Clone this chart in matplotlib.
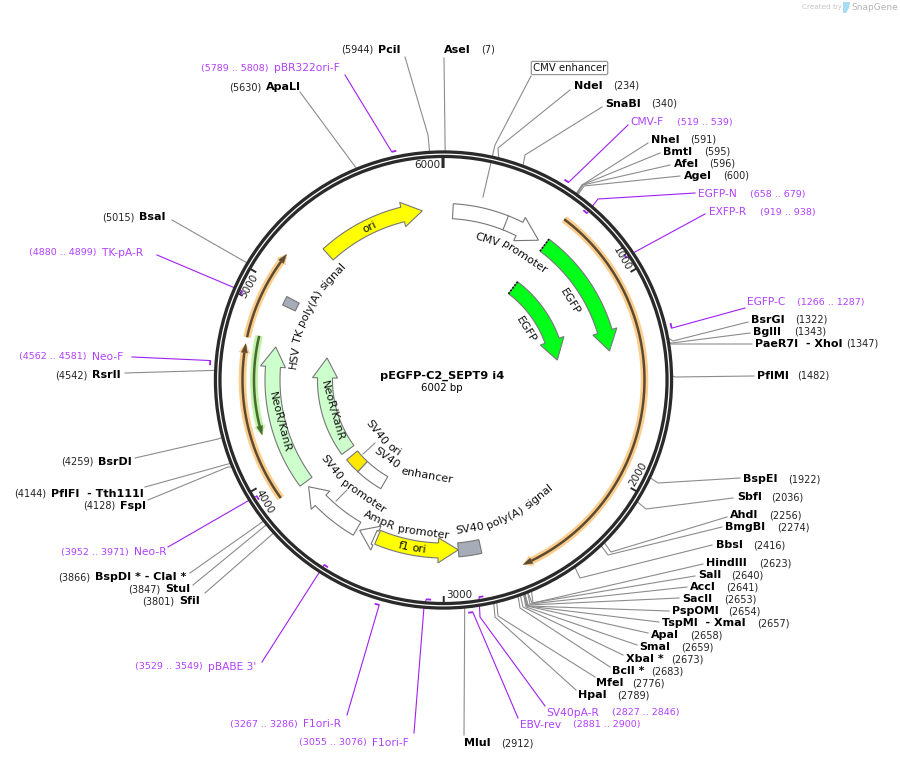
#!/usr/bin/env python3
"""Plasmid map of pEGFP-C2_SEPT9 i4, drawn on a pixel sized axes."""

import numpy as np
import matplotlib
matplotlib.use("Agg")
import matplotlib.pyplot as plt
from matplotlib.font_manager import FontProperties
from matplotlib.patches import Circle, Polygon

# --- data ---
plasmid_name = "pEGFP-C2_SEPT9 i4"
plasmid_len = 6002
ruler_ticks = [1000, 2000, 3000, 4000, 5000, 6000]

site_names = ["AseI", "NdeI", "SnaBI", "NheI", "BmtI", "AfeI", "AgeI", "BsrGI", "BglII",
              "PaeR7I  - XhoI", "PflMI", "BspEI", "SbfI", "AhdI", "BmgBI", "BbsI", "HindIII",
              "SalI", "AccI", "SacII", "PspOMI", "TspMI  - XmaI", "ApaI", "SmaI", "XbaI *",
              "BclI *", "MfeI", "HpaI", "MluI", "SfiI", "StuI", "BspDI * - ClaI *", "FspI",
              "PflFI  - Tth111I", "BsrDI", "RsrII", "BsaI", "ApaLI", "PciI"]
site_bp = [7, 234, 340, 591, 595, 596, 600, 1322, 1343,
           1347, 1482, 1922, 2036, 2256, 2274, 2416, 2623,
           2640, 2641, 2653, 2654, 2657, 2658, 2659, 2673,
           2683, 2776, 2789, 2912, 3801, 3847, 3866, 4128,
           4144, 4259, 4542, 5015, 5630, 5944]

primer_names = ["CMV-F", "EGFP-N", "EXFP-R", "EGFP-C", "SV40pA-R", "EBV-rev", "F1ori-F",
                "F1ori-R", "pBABE 3'", "Neo-R", "Neo-F", "TK-pA-R", "pBR322ori-F"]
primer_start = [519, 658, 919, 1266, 2827, 2881, 3055, 3267, 3529, 3952, 4562, 4880, 5789]
primer_end = [539, 679, 938, 1287, 2846, 2900, 3076, 3286, 3549, 3971, 4581, 4899, 5808]

# feature name, start, tip (bp)
white_arrows = [("CMV", 53, 570), ("SV40 promoter", 3504, 3862), ("AmpR promoter", 3398, 3487)]
yellow_arrows = [("ori", 5292, 5883), ("f1 ori", 3380, 2918)]
green_arrows = [("EGFP", 614, 1335)]
green_arrows_inner = [("EGFP", 617, 1335)]
neo_arrows = [("NeoR/KanR", 3893, 4687)]
neo_arrows_inner = [("NeoR/KanR", 3898, 4680)]
polya_blocks = [("SV40 poly(A) signal", 2793, 2918), ("HSV TK poly(A) signal", 4918, 4969)]
orange_arcs = [(615, 2611), (4706, 5146), (3902, 4675)]
lime_arcs = [(4726, 4221)]

# --- layout (pixels of the 900x760 picture) ---
CX, CY = 443.5, 380.0
site_name_x = [444, 574, 605, 651, 663, 674, 684, 751, 753,
               755, 757, 743, 737, 730, 725, 716, 706,
               698, 690, 682, 672, 662, 651, 639, 626,
               612, 596, 578, 464, 179, 165, 95, 120,
               51, 98, 92, 139, 266, 378]
site_num_x = [481, 613, 651, 690, 704, 709, 723, 795, 794,
              846, 797, 788, 771, 769, 777, 753, 759,
              731, 726, 724, 728, 757, 690, 681, 671,
              651, 632, 617, 501, 142, 128, 58, 83,
              14, 61, 55, 102, 229, 341]
site_y = [50, 86, 104, 140, 152, 164, 176, 320, 332,
          344, 376, 479, 497, 515, 527, 545, 563,
          575, 587, 599, 611, 623, 635, 647, 659,
          671, 683, 695, 743, 601, 589, 577, 506,
          494, 462, 375, 217, 87, 50]
site_end = [(444, 58), (570, 90), (602, 107), (648, 143), (660, 153), (670, 165), (680, 176),
            (748, 322), (750, 333), (752, 344), (754, 376), (740, 478), (733, 498), (727, 517),
            (722, 527), (712, 545), (703, 564), (695, 576), (687, 587), (679, 598), (669, 611),
            (659, 622), (648, 633), (637, 645), (623, 655), (610, 667), (595, 677), (576, 690),
            (464, 735), (205, 593), (193, 585), (190, 573), (148, 500), (145, 487), (135, 458),
            (125, 373), (172, 220), (300, 92), (405, 57)]
site_jog = [None, (498, 148), (525, 155), (582, 185), (582, 185), (583, 185), (584, 186),
            (673, 341), (672, 343), (672, 344), (675, 377), (658, 483), (646, 509), (611, 552),
            (608, 555), (580, 578), (533, 603), (532, 603), (530, 604), (528, 605), (528, 606),
            (527, 606), (527, 606), (526, 607), (523, 607), (520, 608), (498, 616), (495, 617),
            None, None, None, None, (228, 467), (228, 464), (218, 439),
            None, None, None, (428, 135)]

primer_outer = [True, False, False, True, False, True, False, True, False, False, True, False, True]
primer_name_x = [630, 698, 709, 747, 546, 520, 372, 303, 208, 134, 92, 102, 274]
primer_num_x = [677, 750, 760, 797, 612, 573, 299, 230, 135, 61, 19, 29, 201]
primer_y = [122, 194, 212, 302, 713, 725, 743, 724, 667, 552, 357, 253, 68]
primer_end_xy = [(628, 125), (695, 193), (705, 214), (745, 308), (545, 706), (518, 718), (414, 733),
                 (347, 715), (262, 662), (168, 547), (132, 357), (157, 255), (345, 75)]
primer_jog = [None, (598, 199), (633, 253), None, (480, 617), None, (424, 607),
              None, None, None, None, None, None]

# curved labels: text, middle bp, radius
arc_labels = [("ori", 5570, 170), ("CMV promoter", 467, 147), ("EGFP", 974, 149), ("EGFP", 974, 97),
              ("HSV TK poly(A) signal", 4950, 151), ("NeoR/KanR", 4263, 169), ("NeoR/KanR", 4240, 115.5),
              ("SV40 ori", 3768, 85), ("SV40 enhancer", 3325, 97), ("SV40 promoter", 3685, 142),
              ("AmpR promoter", 3242, 154), ("f1 ori", 3176, 171), ("SV40 poly(A) signal", 2585, 151)]

PURPLE = "#a020f0"
PURPLE_TEXT = "#b040ff"
GREY_LINE = "#8c8c8c"
RING = "#2a2a2a"

fig = plt.figure(figsize=(9, 7.6), dpi=100)
ax = fig.add_axes([0, 0, 1, 1])
ax.set_xlim(0, 900)
ax.set_ylim(760, 0)
ax.axis("off")
renderer = fig.canvas.get_renderer()


def bp2deg(bp):
    return np.asarray(bp, dtype=float) / plasmid_len * 360.0


def polar(deg, r):
    t = np.radians(deg)
    return CX + r * np.sin(t), CY - r * np.cos(t)


def tangent_rot(deg):
    deg = deg % 360
    return 180 - deg if 90 < deg < 270 else -deg


def arc_xy(a, b, r, n=80):
    return polar(np.linspace(a, b, n), r)


def draw_arrow(tail_bp, tip_bp, r, face, width=15, head_w=25, head_len=21, z=4):
    a, b = bp2deg(tail_bp), bp2deg(tip_bp)
    d = 1 if b > a else -1
    base = b - d * np.degrees(head_len / r)
    xo, yo = arc_xy(a, base, r + width / 2)
    xi, yi = arc_xy(base, a, r - width / 2)
    hx1, hy1 = polar(base, r + head_w / 2)
    hx2, hy2 = polar(base, r - head_w / 2)
    tx, ty = polar(b, r)
    pts = list(zip(xo, yo)) + [(hx1, hy1), (tx, ty), (hx2, hy2)] + list(zip(xi, yi))
    ax.add_patch(Polygon(pts, closed=True, fc=face, ec="#777777", lw=0.8, zorder=z))


def draw_block(a_bp, b_bp, r, face, width=14, ec="#777777"):
    a, b = bp2deg(a_bp), bp2deg(b_bp)
    xo, yo = arc_xy(a, b, r + width / 2, 30)
    xi, yi = arc_xy(b, a, r - width / 2, 30)
    pts = list(zip(xo, yo)) + list(zip(xi, yi))
    ax.add_patch(Polygon(pts, closed=True, fc=face, ec=ec, lw=0.8, zorder=4))


def highlight_arc(a_bp, b_bp, r, glow, core):
    a, b = bp2deg(a_bp), bp2deg(b_bp)
    d = 1 if b > a else -1
    stop = b - d * np.degrees(9 / r)
    for col, lw, hw in ((glow, 5.5, 5.5), (core, 1.8, 3.0)):
        x, y = arc_xy(a, stop, r)
        ax.plot(x, y, color=col, lw=lw, solid_capstyle="butt", zorder=3)
        x1, y1 = polar(stop, r + hw)
        x2, y2 = polar(stop, r - hw)
        tx, ty = polar(b, r)
        ax.add_patch(Polygon([(x1, y1), (tx, ty), (x2, y2)], closed=True, fc=col, ec=col,
                             lw=0.3, zorder=3))


def arc_text(text, mid_bp, r, size=8):
    # one text per word, each turned to the tangent of the circle
    fp = FontProperties(family="DejaVu Sans", size=size)
    words = text.split(" ")
    widths = [renderer.get_text_width_height_descent(w, fp, False)[0] for w in words]
    gap = size * 100 / 72 * 0.28
    total = sum(widths) + gap * (len(words) - 1)
    mid = float(bp2deg(mid_bp))
    sign = -1 if 90 < mid % 360 < 270 else 1
    pos = -total / 2
    for w, wd in zip(words, widths):
        deg = mid + sign * np.degrees((pos + wd / 2) / r)
        x, y = polar(deg, r)
        ax.text(x, y, w, fontproperties=fp, rotation=tangent_rot(deg), rotation_mode="anchor",
                ha="center", va="center", color="#111111", zorder=6)
        pos += wd + gap


# leaders for enzyme sites
for bp, end, jog in zip(site_bp, site_end, site_jog):
    sx, sy = polar(bp2deg(bp), 228)
    xs, ys = [sx], [sy]
    if jog is not None:
        xs.append(jog[0])
        ys.append(jog[1])
    xs.append(end[0])
    ys.append(end[1])
    ax.plot(xs, ys, color=GREY_LINE, lw=0.8, zorder=1)

# primers: small bar plus leader that leaves from the nearer end of the bar
for s, e, outer, end, jog in zip(primer_start, primer_end, primer_outer, primer_end_xy, primer_jog):
    r = 234 if outer else 220
    x, y = arc_xy(bp2deg(s), bp2deg(e), r, 8)
    ax.plot(x, y, color=PURPLE, lw=1.3, solid_capstyle="butt", zorder=5)
    nxt = jog if jog is not None else end
    ends = [(x[0], y[0]), (x[-1], y[-1])]
    sx, sy = min(ends, key=lambda p: (p[0] - nxt[0]) ** 2 + (p[1] - nxt[1]) ** 2)
    xs, ys = [sx], [sy]
    if jog is not None:
        xs.append(jog[0])
        ys.append(jog[1])
    xs.append(end[0])
    ys.append(end[1])
    ax.plot(xs, ys, color=PURPLE, lw=0.8, zorder=1)

# backbone ring
ax.add_patch(Circle((CX, CY), 225.8, fill=False, ec=RING, lw=5.6, zorder=2))
ax.add_patch(Circle((CX, CY), 225.8, fill=False, ec="white", lw=0.9, zorder=2.1))

# ruler
for tick in ruler_ticks:
    deg = float(bp2deg(tick))
    x1, y1 = polar(deg, 224)
    x2, y2 = polar(deg, 212 if tick == 6000 else 216)
    ax.plot([x1, x2], [y1, y2], color=RING, lw=2.2 if tick == 6000 else 1.4,
            solid_capstyle="butt", zorder=3)
    lx, ly = polar(deg - 4.1, 216)
    ax.text(lx, ly, str(tick), fontsize=7.5, rotation=tangent_rot(deg), rotation_mode="anchor",
            ha="center", va="center", color="#222222", zorder=6)

# highlighted arcs
for a, b in orange_arcs:
    highlight_arc(a, b, 201, "#fcce8e", "#5c4a33")
for a, b in lime_arcs:
    highlight_arc(a, b, 189.5, "#c0f2a8", "#476b2e")

# features
for name, a, b in white_arrows[:1]:
    draw_arrow(a, b, 169, "white", head_w=26, head_len=22)
for name, a, b in white_arrows[1:]:
    draw_arrow(a, b, 172, "white", head_w=26, head_len=18)
for name, a, b in yellow_arrows:
    draw_arrow(a, b, 170.5, "#ffff00", head_len=20)
for name, a, b in green_arrows:
    draw_arrow(a, b, 168.5, "#00ff19", head_len=20)
for name, a, b in green_arrows_inner:
    draw_arrow(a, b, 115.5, "#00ff19", head_len=20)
for name, a, b in neo_arrows:
    draw_arrow(a, b, 171, "#ccffcc", head_len=20)
for name, a, b in neo_arrows_inner:
    draw_arrow(a, b, 118.5, "#ccffcc", head_len=20)
for name, a, b in polya_blocks:
    draw_block(a, b, 170.5, "#a6adb8")

# divider between CMV enhancer and promoter, and the short blocks near SV40
x1, y1 = polar(bp2deg(360), 176.5)
x2, y2 = polar(bp2deg(360), 161.5)
ax.plot([x1, x2], [y1, y2], color="#777777", lw=0.8, zorder=5)
draw_block(3718, 3843, 118.5, "#ffe800")
draw_block(3501, 3718, 118.5, "white")

# dashed tail on the EGFP arrows
for r, bp in ((168.5, 614), (115.5, 617)):
    x1, y1 = polar(bp2deg(bp), r + 7.5)
    x2, y2 = polar(bp2deg(bp), r - 7.5)
    ax.plot([x1, x2], [y1, y2], color="#111111", lw=1.2, ls=(0, (1, 1)), zorder=5)

# short leaders of the labels inside the map
ax.plot([363, 375], [454, 443], color=GREY_LINE, lw=0.8, zorder=5)
ax.plot([336, 347], [501, 490], color=GREY_LINE, lw=0.8, zorder=5)
ax.plot([531, 495, 483], [76, 145, 197], color=GREY_LINE, lw=0.8, zorder=1)

for text, mid, r in arc_labels:
    arc_text(text, mid, r)

# site labels
for name, bp, nx, numx, y in zip(site_names, site_bp, site_name_x, site_num_x, site_y):
    ax.text(nx, y, name, fontsize=8, fontweight="bold", ha="left", va="center", color="black", zorder=7)
    ax.text(numx, y, f"({bp})", fontsize=7, ha="left", va="center", color="#222222", zorder=7)

for name, s, e, nx, numx, y in zip(primer_names, primer_start, primer_end, primer_name_x, primer_num_x, primer_y):
    ax.text(nx, y, name, fontsize=7.7, ha="left", va="center", color=PURPLE_TEXT, zorder=7)
    ax.text(numx, y, f"({s} .. {e})", fontsize=6.8, ha="left", va="center", color=PURPLE_TEXT, zorder=7)

ax.text(569.5, 68, "CMV enhancer", fontsize=7.3, ha="center", va="center", color="#111111", zorder=7,
        bbox=dict(boxstyle="round,pad=0.16", fc="white", ec="#8c8c8c", lw=0.8))

# center title
ax.text(442, 376, plasmid_name, fontsize=8.2, fontweight="bold", ha="center", va="center", zorder=7)
ax.text(442, 388, f"{plasmid_len} bp", fontsize=7.3, ha="center", va="center", zorder=7)

# SnapGene mark
ax.text(802, 7, "Created by", fontsize=5.2, color="#c4c4c4", ha="left", va="center")
ax.add_patch(Polygon([(843, 2), (850, 2), (849, 8), (846, 13), (843, 13)], closed=True, fc="#a8dcf5", ec="none"))
ax.text(851, 7, "SnapGene", fontsize=6.5, color="#b4b4b4", ha="left", va="center")

fig.savefig("out.png", dpi=100)
